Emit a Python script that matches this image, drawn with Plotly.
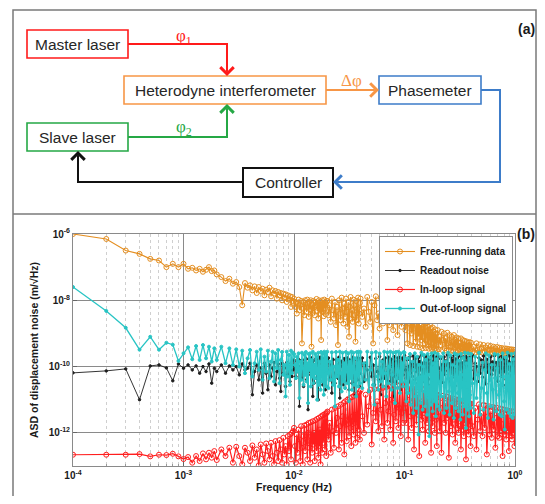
import plotly.graph_objects as go

# ---------------- data ----------------
# frequencies in Hz (shared by all four spectra)
freq_d1 = [0.0001, 0.0002, 0.0003, 0.0004, 0.0005, 0.0006, 0.0007, 0.0008, 0.0009]
freq_d2 = [0.0010, 0.0011, 0.0012, 0.0013, 0.0014, 0.0015, 0.0016, 0.0017, 0.0018, 0.0019,
           0.0020, 0.0022, 0.0024, 0.0026, 0.0028,
           0.0030, 0.0032, 0.0034, 0.0036, 0.0038, 0.0040, 0.0042, 0.0044, 0.0046, 0.0048,
           0.0050, 0.0052, 0.0054, 0.0056, 0.0058, 0.0060, 0.0062, 0.0064, 0.0066, 0.0068,
           0.0070, 0.0072, 0.0074, 0.0076, 0.0078, 0.0080, 0.0082, 0.0084, 0.0086, 0.0088,
           0.0090, 0.0092, 0.0094, 0.0096, 0.0098]
freq_d3a = [0.0100, 0.0102, 0.0104, 0.0106, 0.0108, 0.0110, 0.0112, 0.0114, 0.0116, 0.0118,
            0.0120, 0.0122, 0.0124, 0.0126, 0.0128, 0.0130, 0.0132, 0.0134, 0.0136, 0.0138,
            0.0140, 0.0142, 0.0144, 0.0146, 0.0148, 0.0150, 0.0152, 0.0154, 0.0156, 0.0158,
            0.0160, 0.0162, 0.0164, 0.0166, 0.0168, 0.0170, 0.0172, 0.0174, 0.0176, 0.0178,
            0.0180, 0.0182, 0.0184, 0.0186, 0.0188, 0.0190, 0.0192, 0.0194, 0.0196, 0.0198]
freq_d3b = [0.0200, 0.0205, 0.0210, 0.0215, 0.0220, 0.0225, 0.0230, 0.0235, 0.0240, 0.0245,
            0.0250, 0.0255, 0.0260, 0.0265, 0.0270, 0.0275, 0.0280, 0.0285, 0.0290, 0.0295,
            0.0300, 0.0305, 0.0310, 0.0315, 0.0320, 0.0325, 0.0330, 0.0335, 0.0340, 0.0345,
            0.0350, 0.0355, 0.0360, 0.0365, 0.0370, 0.0375, 0.0380, 0.0385, 0.0390, 0.0395]
freq_d3c = [0.0400, 0.0415, 0.0430, 0.0445, 0.0460, 0.0475, 0.0490, 0.0505, 0.0520, 0.0535,
            0.0550, 0.0565, 0.0580, 0.0595, 0.0610, 0.0625, 0.0640, 0.0655, 0.0670, 0.0685,
            0.0700, 0.0715, 0.0730, 0.0745, 0.0760, 0.0775, 0.0790, 0.0805, 0.0820, 0.0835,
            0.0850, 0.0865, 0.0880, 0.0895, 0.0910, 0.0925, 0.0940, 0.0955, 0.0970, 0.0985]
freq_d4a = [0.100, 0.102, 0.104, 0.106, 0.108, 0.110, 0.112, 0.114, 0.116, 0.118,
            0.120, 0.122, 0.124, 0.126, 0.128, 0.130, 0.132, 0.134, 0.136, 0.138,
            0.140, 0.142, 0.144, 0.146, 0.148, 0.150, 0.152, 0.154, 0.156, 0.158,
            0.160, 0.162, 0.164, 0.166, 0.168, 0.170, 0.172, 0.174, 0.176, 0.178,
            0.180, 0.182, 0.184, 0.186, 0.188, 0.190, 0.192, 0.194, 0.196, 0.198]
freq_d4b = [0.200, 0.204, 0.208, 0.212, 0.216, 0.220, 0.224, 0.228, 0.232, 0.236,
            0.240, 0.244, 0.248, 0.252, 0.256, 0.260, 0.264, 0.268, 0.272, 0.276,
            0.280, 0.284, 0.288, 0.292, 0.296, 0.300, 0.304, 0.308, 0.312, 0.316,
            0.320, 0.324, 0.328, 0.332, 0.336, 0.340, 0.344, 0.348, 0.352, 0.356,
            0.360, 0.364, 0.368, 0.372, 0.376, 0.380, 0.384, 0.388, 0.392, 0.396]
freq_d4c = [0.400, 0.412, 0.424, 0.436, 0.448, 0.460, 0.472, 0.484, 0.496, 0.508,
            0.520, 0.532, 0.544, 0.556, 0.568, 0.580, 0.592, 0.604, 0.616, 0.628,
            0.640, 0.652, 0.664, 0.676, 0.688, 0.700, 0.712, 0.724, 0.736, 0.748,
            0.760, 0.772, 0.784, 0.796, 0.808, 0.820, 0.832, 0.844, 0.856, 0.868,
            0.880, 0.892, 0.904, 0.916, 0.928, 0.940, 0.952, 0.964, 0.976, 0.988,
            1.000]

# log10 of ASD (m/sqrt(Hz)) for each series
free_running_log = (
    [-6.00, -6.15, -6.50, -6.60, -6.75, -6.80, -7.00, -6.90, -7.00]
    + [-6.90, -7.05, -7.02, -7.10, -7.05, -7.14, -7.08, -7.00, -7.12, -7.10,
       -7.22, -7.30, -7.42, -7.35, -7.50,
       -7.45, -7.60, -8.15, -7.48, -7.62, -7.55, -7.70, -7.58, -7.78, -7.60,
       -7.72, -7.65, -7.85, -7.68, -7.75, -7.62, -7.88, -7.70, -7.80, -7.72,
       -7.95, -7.75, -7.85, -7.78, -8.00, -7.80, -7.92, -7.82, -8.05, -7.85,
       -7.98, -7.88, -8.20, -7.90, -8.02]
    + [-7.95, -8.20, -8.05, -8.40, -8.10, -7.98, -8.30, -8.15, -8.02, -9.30,
       -8.25, -8.05, -8.45, -8.00, -8.18, -8.35, -7.98, -8.10, -8.50, -8.05,
       -8.28, -8.00, -9.40, -8.12, -8.38, -8.02, -8.22, -8.45, -8.05, -8.15,
       -7.96, -8.32, -8.08, -8.55, -8.00, -8.20, -8.40, -8.04, -9.20, -8.15,
       -8.00, -8.35, -8.10, -8.48, -7.98, -8.25, -8.05, -8.42, -8.12, -8.02]
    + [-8.02, -8.45, -8.15, -8.65, -7.95, -8.30, -8.55, -8.05, -8.75, -8.20,
       -9.35, -8.00, -8.40, -8.60, -7.92, -8.25, -8.70, -8.10, -8.50, -7.95,
       -8.35, -8.80, -8.05, -9.10, -8.20, -7.90, -8.55, -8.30, -8.65, -7.98,
       -8.15, -8.45, -9.25, -8.02, -8.60, -8.25, -7.92, -8.70, -8.40, -8.08]
    + [-7.95, -8.50, -8.25, -8.80, -7.90, -8.35, -8.65, -8.05, -9.30, -8.15,
       -7.88, -8.60, -8.40, -8.85, -7.92, -8.20, -8.70, -8.00, -8.45, -7.85,
       -9.20, -8.30, -8.75, -7.90, -8.10, -8.55, -8.90, -7.86, -8.35, -8.65,
       -7.82, -9.05, -8.25, -8.60, -7.84, -8.45, -8.80, -7.88, -8.30, -8.50]
    + [-7.95, -8.90, -8.30, -9.30, -8.05, -8.70, -9.35, -8.20, -9.00, -8.50,
       -9.38, -8.35, -8.85, -9.25, -8.45, -9.40, -8.60, -9.10, -8.40, -9.42,
       -8.75, -9.20, -8.55, -9.45, -8.90, -8.62, -9.30, -8.70, -9.44, -8.95,
       -8.68, -9.35, -8.80, -9.46, -9.05, -8.75, -9.40, -8.85, -9.47, -9.10,
       -8.82, -9.42, -8.95, -9.48, -9.15, -8.88, -9.45, -9.00, -9.50, -9.20]
    + [-8.90, -9.48, -9.10, -9.35, -8.95, -9.50, -9.20, -9.00, -9.45, -9.15,
       -9.52, -8.98, -9.30, -9.50, -9.05, -9.40, -9.52, -9.10, -9.25, -9.53,
       -9.05, -9.45, -9.20, -9.54, -9.12, -9.35, -9.52, -9.15, -9.48, -9.30,
       -9.55, -9.15, -9.42, -9.54, -9.20, -9.35, -9.55, -9.22, -9.48, -9.40,
       -9.56, -9.24, -9.45, -9.55, -9.28, -9.38, -9.57, -9.26, -9.50, -9.42]
    + [-9.28, -9.56, -9.40, -9.58, -9.30, -9.50, -9.57, -9.33, -9.45, -9.58,
       -9.35, -9.55, -9.42, -9.59, -9.36, -9.50, -9.60, -9.38, -9.48, -9.59,
       -9.40, -9.56, -9.45, -9.60, -9.41, -9.52, -9.61, -9.43, -9.50, -9.60,
       -9.44, -9.57, -9.48, -9.61, -9.45, -9.54, -9.62, -9.46, -9.52, -9.61,
       -9.47, -9.58, -9.50, -9.62, -9.48, -9.56, -9.63, -9.49, -9.55, -9.62,
       -9.50]
)

readout_log = (
    [-10.19, -10.13, -10.07, -11.00, -9.98, -9.95, -10.04, -10.43, -9.92]
    + [-10.05, -9.95, -10.10, -9.98, -10.20, -10.00, -10.15, -9.92, -10.50, -10.05,
       -10.15, -9.95, -10.20, -9.98, -10.10,
       -10.00, -10.25, -9.92, -10.10, -10.05, -9.90, -10.85, -10.15, -9.95, -10.40,
       -10.05, -10.80, -9.90, -10.20, -10.70, -9.95, -10.30, -10.05, -9.88, -10.55,
       -10.15, -9.92, -10.35, -10.75, -9.90, -10.20, -10.05, -10.60, -9.88, -10.25,
       -10.00, -10.45, -9.90, -10.30, -10.10]
    + [-9.80, -10.05, -10.30, -9.85, -10.15, -9.78, -11.20, -10.00, -9.82, -10.35,
       -9.90, -10.60, -9.80, -10.10, -9.75, -10.40, -10.00, -11.30, -9.78, -10.15,
       -9.85, -10.25, -9.74, -10.05, -10.90, -9.82, -10.50, -9.95, -10.20, -9.76,
       -10.35, -9.88, -10.10, -11.00, -9.80, -10.25, -9.72, -10.45, -10.00, -9.84,
       -10.15, -10.55, -9.78, -10.05, -10.30, -9.76, -10.70, -9.90, -10.20, -9.80]
    + [-10.10, -9.74, -10.40, -9.95, -10.80, -9.78, -10.20, -10.50, -9.80, -10.05,
       -10.35, -9.72, -10.95, -10.00, -9.84, -10.25, -10.55, -9.76, -10.15, -9.90,
       -10.45, -9.74, -10.05, -10.70, -9.80, -10.30, -9.95, -10.50, -9.72, -10.15,
       -10.85, -9.78, -10.25, -10.00, -9.74, -10.40, -10.10, -9.82, -10.60, -9.76]
    + [-10.20, -9.74, -10.45, -9.90, -10.10, -10.75, -9.72, -10.30, -9.95, -10.55,
       -9.76, -10.15, -10.40, -9.70, -10.85, -10.05, -9.80, -10.35, -9.74, -10.20,
       -10.60, -9.72, -10.10, -10.45, -9.78, -10.00, -10.90, -9.70, -10.30, -9.85,
       -10.50, -9.74, -10.15, -10.35, -9.72, -10.70, -10.00, -9.76, -10.25, -9.72]
    + [-9.66, -10.10, -10.35, -9.80, -10.00, -10.45, -9.70, -10.20, -9.90, -10.30,
       -9.68, -10.05, -10.40, -9.75, -10.15, -9.95, -10.50, -9.72, -10.25, -9.85,
       -10.10, -9.66, -10.35, -9.90, -10.00, -10.45, -9.70, -10.20, -9.82, -10.30,
       -9.68, -10.05, -10.55, -9.78, -10.15, -9.92, -10.38, -9.70, -10.22, -9.86,
       -10.08, -9.67, -10.32, -9.88, -10.02, -10.44, -9.72, -10.18, -9.84, -10.28]
    + [-9.69, -10.06, -10.42, -9.76, -10.14, -9.94, -10.48, -9.71, -10.24, -9.83,
       -10.12, -9.65, -10.36, -9.91, -10.01, -10.46, -9.73, -10.21, -9.81, -10.31,
       -9.67, -10.04, -10.58, -9.77, -10.16, -9.93, -10.39, -9.69, -10.23, -9.87,
       -10.09, -9.68, -10.33, -9.89, -10.03, -10.43, -9.71, -10.19, -9.85, -10.29,
       -9.70, -10.07, -10.41, -9.74, -10.13, -9.96, -10.47, -9.72, -10.26, -9.84]
    + [-10.11, -9.66, -10.37, -9.90, -10.00, -10.45, -9.74, -10.20, -9.80, -10.32,
       -9.68, -10.05, -10.52, -9.78, -10.17, -9.94, -10.40, -9.70, -10.24, -9.86,
       -10.10, -9.67, -10.34, -9.88, -10.02, -10.44, -9.72, -10.18, -9.83, -10.30,
       -9.69, -10.06, -10.56, -9.76, -10.15, -9.92, -10.38, -9.71, -10.22, -9.85,
       -10.08, -9.66, -10.35, -9.89, -10.04, -10.46, -9.73, -10.19, -9.82, -10.28,
       -9.70]
)

in_loop_log = (
    [-12.66, -12.66, -12.66, -12.64, -12.71, -12.66, -12.67, -12.63, -12.71]
    + [-12.79, -12.73, -12.90, -12.70, -12.85, -12.62, -12.80, -12.60, -12.75, -12.55,
       -12.82, -12.50, -12.70, -12.45, -12.90,
       -12.42, -12.70, -12.95, -12.45, -12.60, -12.85, -12.38, -12.75, -12.50, -12.98,
       -12.35, -12.65, -12.90, -12.32, -12.55, -12.80, -12.30, -12.70, -12.95, -12.25,
       -12.60, -12.85, -12.22, -12.50, -12.90, -12.15, -12.65, -12.40, -12.95, -12.10,
       -12.55, -12.05, -12.80, -12.00, -11.95]
    + [-11.85, -12.40, -12.90, -12.05, -12.60, -11.90, -12.20, -12.85, -11.80, -12.45,
       -12.95, -12.10, -11.78, -12.55, -12.30, -11.75, -12.80, -12.00, -11.70, -12.45,
       -12.90, -11.68, -12.20, -12.60, -11.65, -12.35, -12.00, -12.85, -11.62, -12.25,
       -12.55, -11.58, -12.10, -12.75, -11.55, -12.40, -11.90, -12.95, -11.50, -12.15,
       -12.60, -11.47, -12.30, -11.85, -11.44, -12.50, -12.05, -11.42, -12.70, -11.40]
    + [-11.36, -12.20, -11.70, -12.60, -11.30, -11.95, -12.45, -11.25, -12.00, -11.55,
       -11.20, -12.50, -11.80, -11.15, -12.30, -11.50, -11.10, -12.65, -11.05, -11.75,
       -12.25, -11.00, -11.60, -12.10, -10.95, -11.85, -12.40, -10.92, -11.50, -12.05,
       -10.88, -11.70, -12.30, -10.85, -11.45, -12.15, -10.82, -11.90, -10.78, -12.20]
    + [-10.72, -11.50, -12.00, -10.85, -11.75, -11.20, -10.70, -12.35, -11.40, -10.68,
       -11.65, -11.05, -11.95, -10.66, -11.30, -11.80, -10.64, -12.20, -11.10, -10.62,
       -11.70, -11.35, -10.60, -11.90, -11.00, -10.60, -12.30, -11.45, -10.58, -11.65,
       -11.15, -10.57, -11.85, -11.25, -10.56, -12.10, -11.40, -10.56, -11.70, -10.55]
    + [-10.55, -11.25, -11.70, -10.75, -12.20, -11.00, -10.58, -11.50, -11.85, -10.65,
       -11.35, -12.50, -10.60, -11.10, -11.75, -10.85, -11.45, -10.62, -12.70, -11.20,
       -10.64, -11.60, -11.05, -11.90, -10.70, -11.40, -10.66, -12.30, -11.15, -10.80,
       -11.70, -10.68, -11.30, -11.95, -10.72, -11.55, -10.90, -12.60, -10.75, -11.25,
       -11.80, -10.78, -11.45, -11.05, -12.00, -10.82, -11.60, -10.84, -12.40, -11.20]
    + [-10.85, -11.50, -11.95, -10.95, -12.60, -11.25, -10.88, -11.70, -11.10, -12.00,
       -10.90, -11.55, -10.92, -12.75, -11.35, -10.95, -11.80, -11.15, -12.05, -10.96,
       -11.60, -10.98, -12.30, -11.40, -11.00, -11.85, -11.20, -12.00, -11.00, -11.65,
       -11.02, -12.50, -11.45, -11.04, -11.90, -11.25, -12.10, -11.05, -11.70, -11.06,
       -12.80, -11.50, -11.08, -11.95, -11.30, -12.05, -11.10, -11.75, -11.12, -12.40]
    + [-11.12, -11.80, -12.10, -11.25, -12.50, -11.60, -11.14, -11.95, -11.40, -12.10,
       -11.16, -11.85, -11.18, -12.65, -11.50, -11.20, -12.05, -11.35, -12.15, -11.22,
       -11.90, -11.24, -12.45, -11.55, -11.25, -12.10, -11.40, -12.15, -11.27, -11.95,
       -11.28, -12.70, -11.60, -11.30, -12.05, -11.45, -12.20, -11.32, -11.95, -11.33,
       -12.55, -11.65, -11.34, -12.10, -11.50, -12.20, -11.35, -12.00, -11.36, -12.40,
       -11.36]
)

out_of_loop_log = (
    [-7.60, -8.32, -8.83, -9.49, -9.10, -9.49, -9.28, -9.34, -9.83]
    + [-9.60, -9.42, -9.78, -9.38, -9.80, -9.35, -9.75, -9.40, -9.85, -9.45,
       -9.80, -9.40, -9.90, -9.45, -9.95,
       -9.48, -10.00, -9.52, -10.20, -9.75, -9.50, -10.30, -9.90, -9.55, -10.10,
       -9.48, -10.40, -9.70, -10.15, -9.52, -10.35, -9.85, -9.55, -10.45, -9.60,
       -10.05, -9.50, -10.50, -9.80, -9.56, -10.25, -9.95, -10.90, -9.55, -10.30,
       -9.65, -10.55, -9.52, -10.20, -9.58]
    + [-9.62, -9.95, -10.35, -9.70, -10.15, -9.60, -10.95, -9.85, -10.40, -9.58,
       -10.05, -10.55, -9.64, -10.25, -9.56, -10.45, -9.90, -11.10, -9.62, -10.10,
       -9.60, -10.60, -9.80, -10.30, -9.55, -10.50, -9.95, -10.35, -9.62, -10.20,
       -9.70, -11.00, -10.45, -9.58, -10.55, -9.85, -10.30, -10.70, -9.56, -10.05,
       -10.45, -9.60, -10.15, -10.85, -9.55, -9.95, -10.50, -9.58, -10.60, -10.10]
    + [-9.55, -10.65, -9.85, -10.40, -9.57, -10.55, -10.00, -11.20, -9.56, -10.30,
       -9.80, -10.60, -9.55, -10.20, -10.75, -9.58, -10.45, -9.90, -10.65, -9.56,
       -10.15, -10.50, -9.60, -11.05, -9.85, -10.35, -9.55, -10.70, -10.05, -9.58,
       -10.55, -9.75, -10.40, -10.90, -9.56, -10.25, -10.60, -9.55, -10.10, -10.50]
    + [-9.56, -10.65, -9.90, -10.40, -9.55, -10.75, -10.10, -9.58, -10.55, -11.15,
       -9.56, -10.30, -10.70, -9.60, -10.45, -9.85, -10.60, -9.55, -10.20, -10.90,
       -9.57, -10.50, -10.00, -9.55, -10.70, -10.25, -9.58, -10.55, -11.10, -9.56,
       -10.35, -10.65, -9.55, -10.15, -10.80, -9.60, -10.45, -9.90, -10.60, -9.56]
    + [-9.58, -10.45, -11.05, -9.75, -10.80, -10.20, -9.62, -11.15, -10.55, -9.85,
       -11.40, -10.10, -9.60, -10.90, -11.25, -9.70, -10.35, -12.05, -9.95, -10.65,
       -11.10, -9.58, -10.30, -11.30, -10.00, -9.65, -10.75, -11.20, -9.80, -10.50,
       -11.45, -9.62, -10.25, -10.95, -12.10, -9.72, -10.60, -11.15, -9.60, -10.40,
       -11.35, -9.90, -10.70, -11.05, -9.58, -10.15, -11.50, -9.78, -10.85, -11.20]
    + [-9.62, -10.45, -11.30, -9.70, -10.90, -10.20, -9.60, -11.40, -10.60, -9.85,
       -11.25, -10.05, -9.58, -10.75, -11.45, -9.66, -10.35, -11.10, -9.95, -10.65,
       -11.55, -9.60, -10.30, -11.25, -10.00, -9.64, -10.80, -11.35, -9.82, -10.50,
       -11.60, -9.62, -10.25, -11.00, -11.45, -9.74, -10.60, -11.20, -9.58, -10.40,
       -11.85, -9.90, -10.70, -11.30, -9.60, -10.15, -11.50, -9.76, -10.85, -11.25]
    + [-9.62, -10.50, -11.40, -9.70, -10.95, -10.25, -9.58, -11.45, -10.65, -9.88,
       -11.30, -10.10, -9.60, -10.80, -11.55, -9.66, -10.40, -11.20, -9.95, -10.70,
       -11.60, -9.62, -10.35, -11.35, -10.05, -9.64, -10.85, -11.45, -9.80, -10.55,
       -11.50, -9.60, -10.30, -11.05, -11.90, -9.72, -10.65, -11.30, -9.58, -10.45,
       -11.40, -9.92, -10.75, -11.50, -9.62, -10.20, -11.55, -9.78, -10.90, -11.45,
       -9.60]
)

series_names = ["Free-running data", "Readout noise", "In-loop signal", "Out-of-loop signal"]
x_tick_labels = ["10<sup>-4</sup>", "10<sup>-3</sup>", "10<sup>-2</sup>", "10<sup>-1</sup>", "10<sup>0</sup>"]
y_tick_labels = ["10<sup>-12</sup>", "10<sup>-10</sup>", "10<sup>-8</sup>", "10<sup>-6</sup>"]

# ---------------- figure ----------------
freq = freq_d1 + freq_d2 + freq_d3a + freq_d3b + freq_d3c + freq_d4a + freq_d4b + freq_d4c

# the page puts the figure 8 px from the window's edges; keep it inside the window
OFF = 8
W, H = 545 - 2 * OFF, 504 - 2 * OFF
L, R, T, B = 73, 515, 234, 466   # plot-area box in window pixels


def px(x):
    return (x - L) / (R - L)


def py(y):
    return (B - y) / (B - T)


fig = go.Figure()

styles = [
    dict(color="rgb(228,142,32)", width=1.1, symbol="circle-open", size=5),
    dict(color="#1e1e1e", width=0.9, symbol="circle", size=2.5),
    dict(color="rgb(255,30,30)", width=1.2, symbol="circle-open", size=5),
    dict(color="rgb(40,196,196)", width=1.3, symbol="circle", size=3),
]
for name, vals, st in zip(series_names,
                          [free_running_log, readout_log, in_loop_log, out_of_loop_log],
                          styles):
    n = min(len(freq), len(vals))
    fig.add_trace(go.Scatter(
        x=freq[:n], y=[10 ** v for v in vals[:n]], name=name, mode="lines+markers",
        line=dict(color=st["color"], width=st["width"]),
        marker=dict(symbol=st["symbol"], size=st["size"], color=st["color"],
                    line=dict(color=st["color"], width=1)),
        cliponaxis=True,
    ))

minor_x = [m * 10 ** e for e in range(-4, 0) for m in range(2, 10)]

FONT = "Liberation Sans, Arial, DejaVu Sans"
axis_font = dict(family=FONT, size=10, color="#1a1a1a", weight="bold")
fig.update_xaxes(
    type="log", range=[-4, 0], tickvals=[1e-4, 1e-3, 1e-2, 1e-1, 1],
    ticktext=x_tick_labels, tickfont=axis_font,
    showline=True, linecolor="#8a8a8a", linewidth=1, mirror=True,
    ticks="inside", ticklen=4, tickcolor="#666",
    showgrid=True, gridcolor="#8a8a8a", gridwidth=1.3, zeroline=False,
    minor=dict(tickvals=minor_x, showgrid=True, gridcolor="#cfcfcf", griddash="dot",
               gridwidth=0.8, ticks="inside", ticklen=2, tickcolor="#999"),
    title=dict(text="Frequency (Hz)", font=dict(family=FONT, size=10.5, color="#1a1a1a", weight="bold"),
               standoff=2),
    automargin=False,
)
fig.update_yaxes(
    type="log", range=[-13, -6], tickvals=[1e-12, 1e-10, 1e-8, 1e-6],
    ticktext=y_tick_labels, tickfont=axis_font,
    showline=True, linecolor="#8a8a8a", linewidth=1, mirror=True,
    ticks="inside", ticklen=4, tickcolor="#666",
    showgrid=True, gridcolor="#8a8a8a", gridwidth=1.3, zeroline=False,
    title=dict(text="ASD of displacement noise (m/√Hz)",
               font=dict(family=FONT, size=10.5, color="#1a1a1a", weight="bold"), standoff=8),
    automargin=False,
)

# ---------------- panel (a): block diagram ----------------
shapes = []
annotations = []

# outer frame and divider
shapes.append(dict(type="rect", xref="paper", yref="paper", x0=px(13), x1=px(536), y0=py(10), y1=py(508),
                   line=dict(color="#7a7a7a", width=1.5), fillcolor="rgba(0,0,0,0)", layer="below"))
shapes.append(dict(type="line", xref="paper", yref="paper", x0=px(13), x1=px(536), y0=py(214), y1=py(214),
                   line=dict(color="#7a7a7a", width=1.5)))

boxes = [
    ("Master laser", 27, 30, 128, 58, "#ff1a1a"),
    ("Heterodyne interferometer", 124, 76, 326, 104, "#f79646"),
    ("Phasemeter", 379, 76, 481, 104, "#3d7cc9"),
    ("Slave laser", 27, 123, 128, 151, "#25a845"),
    ("Controller", 243, 168, 333, 197, "#111111"),
]
for text, x0, y0, x1, y1, col in boxes:
    shapes.append(dict(type="rect", xref="paper", yref="paper", x0=px(x0), x1=px(x1), y0=py(y0), y1=py(y1),
                       line=dict(color=col, width=1.6 if col != "#111111" else 2), fillcolor="white"))
    annotations.append(dict(xref="paper", yref="paper", x=px((x0 + x1) / 2), y=py((y0 + y1) / 2),
                            xanchor="center", yanchor="middle", text=text, showarrow=False,
                            font=dict(family=FONT, size=15.5, color="#262626")))


def path(points):
    d = "M %f,%f" % (px(points[0][0]), py(points[0][1]))
    for x, y in points[1:]:
        d += " L %f,%f" % (px(x), py(y))
    return d


connectors = [
    ([(128, 44), (227, 44), (227, 70)], "#ff1a1a", (227, 76), (0, -14)),
    ([(128, 137), (227, 137), (227, 110)], "#25a845", (227, 104), (0, 14)),
    ([(326, 90), (373, 90)], "#f79646", (379, 90), (-14, 0)),
    ([(481, 90), (500, 90), (500, 182), (339, 182)], "#3d7cc9", (333, 182), (14, 0)),
    ([(243, 182), (78, 182), (78, 157)], "#111111", (78, 151), (0, 14)),
]
for pts, col, head, off in connectors:
    shapes.append(dict(type="path", xref="paper", yref="paper", path=path(pts),
                       line=dict(color=col, width=2), fillcolor="rgba(0,0,0,0)"))
    annotations.append(dict(xref="paper", yref="paper", x=px(head[0]), y=py(head[1]),
                            ax=off[0], ay=off[1], text="", showarrow=True,
                            arrowhead=4, arrowsize=1.3, arrowwidth=2, arrowcolor=col, standoff=0))

labels = [
    ("φ<sub>1</sub>", 184, 37, "#ff1a1a"),
    ("φ<sub>2</sub>", 184, 128, "#25a845"),
    ("Δφ", 351, 80, "#f79646"),
]
for txt, x, y, col in labels:
    annotations.append(dict(xref="paper", yref="paper", x=px(x), y=py(y), text=txt, showarrow=False,
                            xanchor="center", yanchor="middle",
                            font=dict(family="Liberation Serif, Times New Roman", size=17, color=col)))

annotations.append(dict(xref="paper", yref="paper", x=px(526), y=py(29), text="<b>(a)</b>", showarrow=False,
                        xanchor="center", yanchor="middle",
                        font=dict(family=FONT, size=14, color="#1a1a1a")))
annotations.append(dict(xref="paper", yref="paper", x=px(526), y=py(234), text="<b>(b)</b>", showarrow=False,
                        xanchor="center", yanchor="middle",
                        font=dict(family=FONT, size=14, color="#1a1a1a")))

fig.update_layout(
    width=W, height=H,
    margin=dict(l=L - OFF, r=W - (R - OFF), t=T - OFF, b=H - (B - OFF), autoexpand=False),
    paper_bgcolor="white", plot_bgcolor="white",
    shapes=shapes, annotations=annotations,
    showlegend=True,
    legend=dict(x=px(513), y=py(236), xanchor="right", yanchor="top",
                bgcolor="white", bordercolor="#8a8a8a", borderwidth=1,
                font=dict(family=FONT, size=10, color="#1a1a1a", weight="bold"),
                tracegroupgap=0, itemwidth=30),
    font=dict(family=FONT),
)

fig.write_html("out.html")
